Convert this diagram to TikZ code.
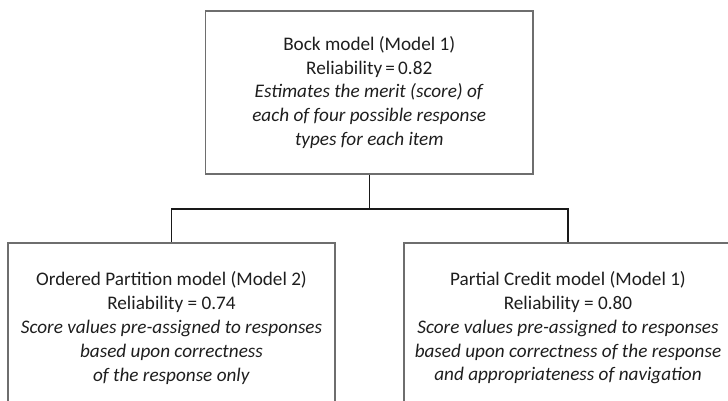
\documentclass[tikz,border=0pt]{standalone}
\usepackage{fontspec}
\setmainfont{Carlito}
\definecolor{boxgray}{HTML}{6E6E6E}
\definecolor{textgray}{HTML}{1E1E1E}
\begin{document}
\begin{tikzpicture}[x=1pt,y=-1pt,
  box/.style={draw=boxgray, line width=1.6pt, align=center, inner sep=0pt,
    font=\fontsize{19.2}{23.8}\selectfont, text=textgray},
  conn/.style={draw=black!90, line width=1.3pt}]
\useasboundingbox (0,0) rectangle (728,401);
\clip (0,0) rectangle (728,401);
\node[box, minimum width=327.5pt, minimum height=163pt] (bock) at (369.25,92.5)
  {Bock model (Model 1)\\ Reliability\,=\,0.82\\ \textit{Estimates the merit (score) of}\\
   \textit{each of four possible response}\\ \textit{types for each item}};
\node[box, minimum width=327pt, minimum height=170pt] (op) at (171.5,328)
  {Ordered Partition model (Model 2)\\ Reliability = 0.74\\
   \textit{Score values pre-assigned to responses}\\ \textit{based upon correctness}\\
   \textit{of the response only}};
\node[box, minimum width=328pt, minimum height=170pt] (pc) at (568,328)
  {Partial Credit model (Model 1)\\ Reliability = 0.80\\
   \textit{Score values pre-assigned to responses}\\ \textit{based upon correctness of the response}\\
   \textit{and appropriateness of navigation}};
\coordinate (j) at (369.25,209);
\draw[conn] (bock.south) -- (j);
\draw[conn] (j) -| (op.north);
\draw[conn] (j) -| (pc.north);
\end{tikzpicture}
\end{document}
